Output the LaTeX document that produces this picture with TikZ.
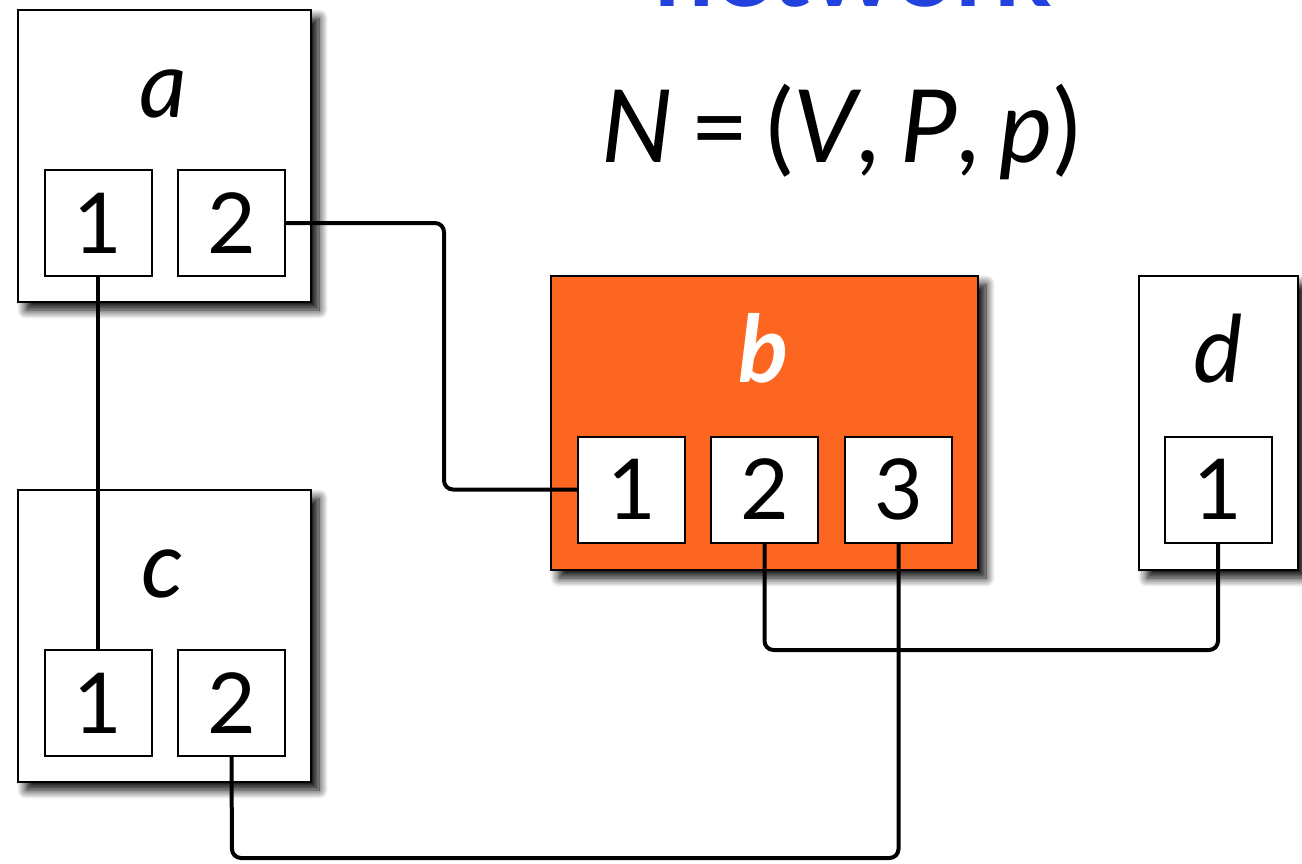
\documentclass[tikz,border=0pt]{standalone}
\usepackage{fontspec}
\setmainfont{Lato}
\usetikzlibrary{shadows.blur}
\definecolor{borange}{HTML}{FC6621}
\definecolor{tblue}{HTML}{2341DD}
\begin{document}
\begin{tikzpicture}[x=1pt,y=-1pt,
  dev/.style={draw=black, line width=2.5pt, fill=white, inner sep=0pt, minimum height=292pt,
    blur shadow={shadow xshift=8pt, shadow yshift=-8pt, shadow blur steps=12, shadow blur radius=9pt, shadow opacity=100}},
  port/.style={draw=black, line width=2pt, fill=white, inner sep=0pt, minimum width=107pt, minimum height=106pt,
    font=\fontsize{84}{90}\selectfont},
  lbl/.style={anchor=base, inner sep=0pt, font=\fontsize{93}{100}\selectfont\itshape},
  wire/.style={draw=black, line width=4pt, rounded corners=9pt}]
\useasboundingbox (0,0) rectangle (1302,863);
\clip (0,0) rectangle (1302,863);
% title
\node[anchor=base, inner sep=0pt, text=tblue, font=\fontsize{106}{110}\selectfont\bfseries] (title) at (853,6) {network};
% formula
\node[anchor=base, inner sep=0pt, font=\fontsize{101}{110}\selectfont] (formula) at (841,162) {\textit{N}\hspace{0.17em}=\hspace{0.17em}(\textit{V},\hspace{0.2em}\textit{P},\hspace{0.2em}\textit{p})};
% devices
\node[dev, minimum width=293pt] (a) at (164.5,156) {};
\node[dev, minimum width=293pt] (c) at (164.5,636) {};
\node[dev, minimum width=427pt, minimum height=294pt, fill=borange] (b) at (764.5,423) {};
\node[dev, minimum width=159pt, minimum height=294pt] (d) at (1218.5,423) {};
% labels
\node[lbl] (la) at (163,117) {a};
\node[lbl] (lc) at (163,597) {c};
\node[lbl, text=white, font=\fontsize{93}{100}\selectfont\bfseries\itshape] (lb) at (764,382) {b};
\node[lbl] (ld) at (1218,382) {d};
% ports
\node[port] (a1) at (98,223) {1};
\node[port] (a2) at (231.5,223) {2};
\node[port] (c1) at (98,703) {1};
\node[port] (c2) at (231.5,703) {2};
\node[port] (b1) at (631.5,489.5) {1};
\node[port] (b2) at (764.5,489.5) {2};
\node[port] (b3) at (898.5,489.5) {3};
\node[port] (d1) at (1218,489.5) {1};
% wires
\draw[wire] (a1.south) -- (c1.north);
\draw[wire] (a2.east) -| (444,489.5) -- (b1.west);
\draw[wire] (b2.south) |- (1218,650) -- (d1.south);
\draw[wire] (b3.south) |- (232,858) -- (c2.south);
\end{tikzpicture}
\end{document}
